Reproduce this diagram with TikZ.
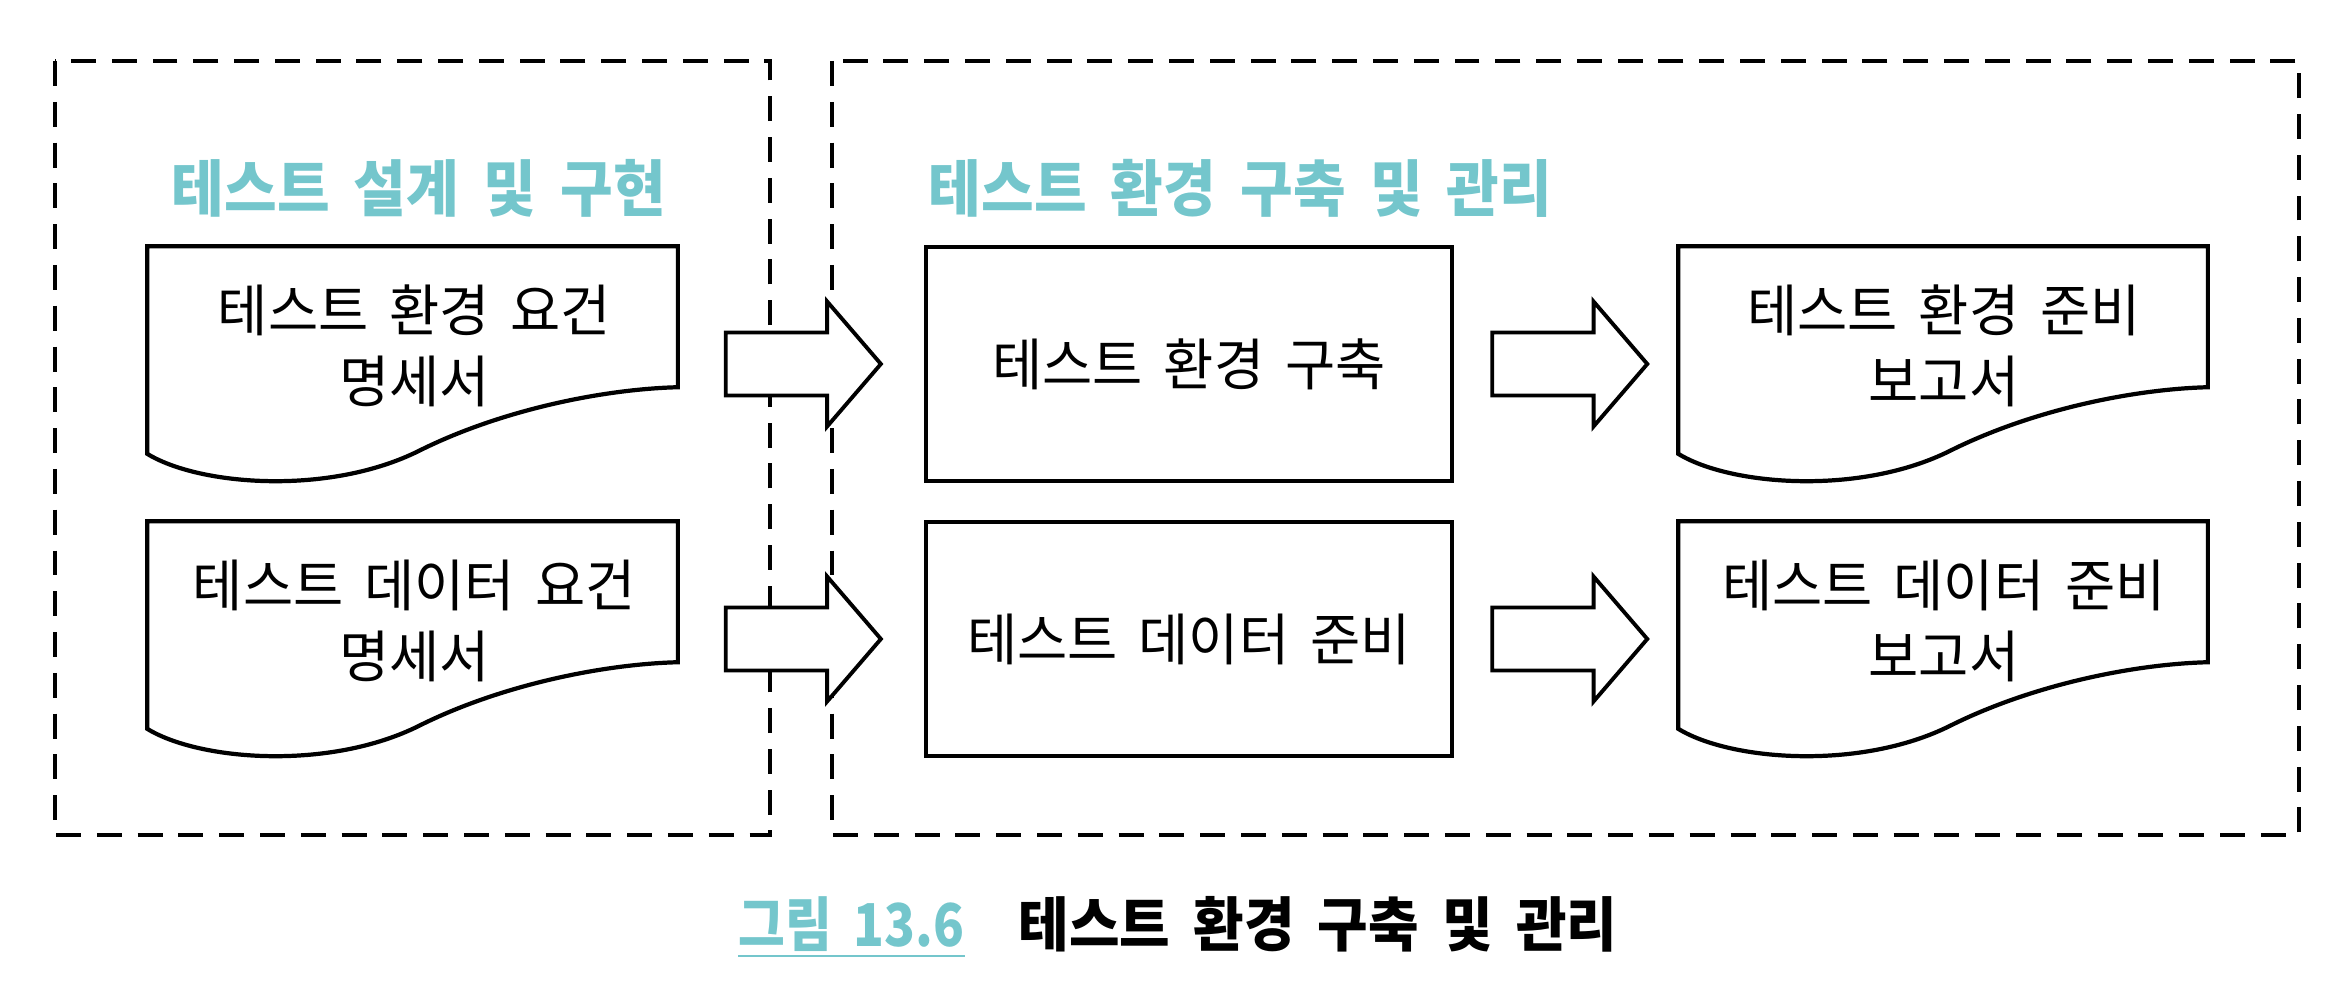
\documentclass[tikz,border=0pt]{standalone}
\usepackage{fontspec}
\setmainfont{Noto Sans CJK KR}[FakeStretch=0.97,WordSpace=1.7]
\newfontfamily\headfont{Noto Sans CJK KR}[FakeStretch=0.93,WordSpace=1.85]
\newfontfamily\labelfont{Noto Sans CJK KR}[FakeStretch=0.86,WordSpace=1.85]
\usetikzlibrary{calc,shapes.arrows}
\definecolor{headteal}{RGB}{116,198,204}
% outline of a document page round a frame node
\newcommand\docpage[1]{%
  \draw[docline] (#1.north east) -- (#1.north west)
    -- ($(#1.south west)+(0,28)$)
    .. controls +(52,-32) and +(-90,-45) .. ($(#1.south west)+(272,31)$)
    .. controls +(80,40) and +(-77,-2) .. ($(#1.north east)+(0,-141)$) -- cycle;}
\begin{document}
\begin{tikzpicture}[x=0.01cm,y=0.01cm,
  groupbox/.style={line width=1.2pt,dash pattern=on 7.1pt off 4.5pt},
  docframe/.style={rectangle,inner sep=0pt,minimum width=5.29cm,minimum height=2.34cm},
  doctext/.style={align=center,inner sep=0pt,font=\fontsize{16}{20.2}\selectfont},
  docline/.style={line width=1.2pt},
  stepbox/.style={draw,line width=1.2pt,inner sep=0pt,minimum width=5.26cm,minimum height=2.34cm,
    font=\fontsize{16}{20.2}\selectfont},
  fatarrow/.style={single arrow,draw,fill=white,line width=1.1pt,inner xsep=0pt,inner ysep=0.295cm,
    single arrow head extend=0.31cm,single arrow tip angle=98.6,minimum height=1.55cm,anchor=tail},
  heading/.style={text=headteal,font=\headfont\fontsize{17.5}{21}\selectfont\bfseries,inner sep=0pt,anchor=base west},
  captext/.style={font=\headfont\fontsize{16.8}{20}\selectfont\bfseries,inner sep=0pt,anchor=base west}
]
\useasboundingbox (0,0) rectangle (2348,1000);
\def\rowA{636}
\def\rowB{361}
% groups
\draw[groupbox] (55,939) rectangle (770,165);
\draw[groupbox] (832,939) rectangle (2299,165);
\node[heading] (designhead) at (171,788) {테스트 설계 및 구현};
\node[heading] (envhead) at (928,788) {테스트 환경 구축 및 관리};
% inputs
\node[docframe] (envreq) at (412.5,\rowA) {};
\node[docframe] (datareq) at (412.5,\rowB) {};
\docpage{envreq}
\docpage{datareq}
\node[doctext] (envreq-txt) at ($(envreq.center)+(2,18.5)$) {테스트 환경 요건\\명세서};
\node[doctext] (datareq-txt) at ($(datareq.center)+(2,18.5)$) {테스트 데이터 요건\\명세서};
% activities
\node[stepbox] (envbuild) at (1189,\rowA) {테스트 환경 구축};
\node[stepbox] (databuild) at (1189,\rowB) {테스트 데이터 준비};
% outputs
\node[docframe,minimum width=5.28cm] (envrep) at (1943,\rowA) {};
\node[docframe,minimum width=5.28cm] (datarep) at (1943,\rowB) {};
\docpage{envrep}
\docpage{datarep}
\node[doctext] (envrep-txt) at ($(envrep.center)+(1,18.5)$) {테스트 환경 준비\\보고서};
\node[doctext] (datarep-txt) at ($(datarep.center)+(1,18.5)$) {테스트 데이터 준비\\보고서};
% flow
\node[fatarrow] (arrA1) at ($(envreq.east)+(46,0)$) {};
\node[fatarrow] (arrB1) at ($(datareq.east)+(46,0)$) {};
\node[fatarrow] (arrA2) at ($(envbuild.east)+(36,0)$) {};
\node[fatarrow] (arrB2) at ($(databuild.east)+(36,0)$) {};
% caption
\node[captext,text=headteal,font=\labelfont\fontsize{16.8}{20}\selectfont\bfseries] (figno) at (738,53) {그림 13.6};
\draw[headteal,line width=0.7pt] ($(figno.base west)+(0,-9)$) -- ($(figno.base east)+(0,-9)$);
\node[captext] (figtitle) at (1018,53) {테스트 환경 구축 및 관리};
\end{tikzpicture}
\end{document}
